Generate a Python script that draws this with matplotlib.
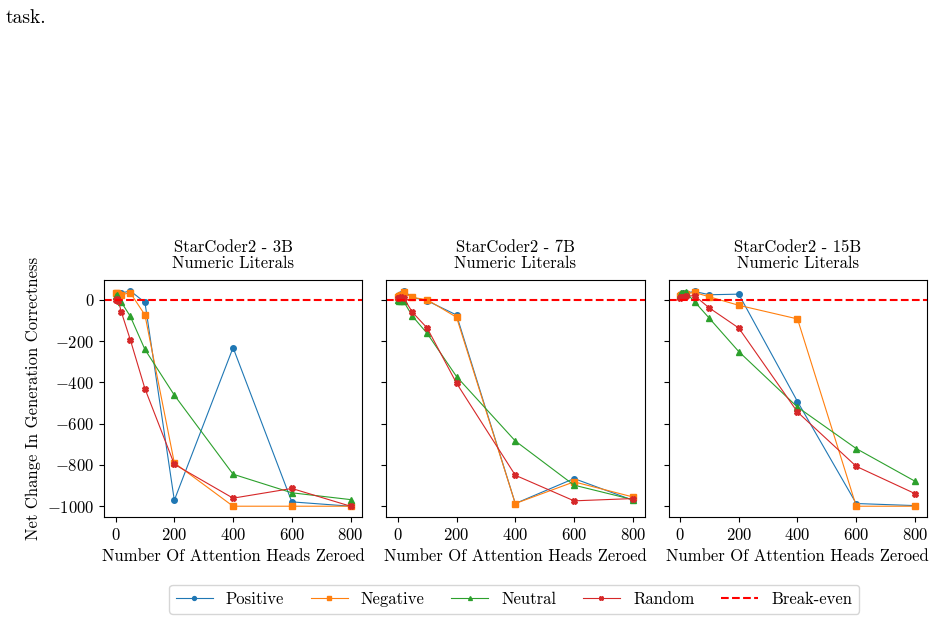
import matplotlib
matplotlib.use("Agg")
import matplotlib.pyplot as plt

plt.rcParams["font.family"] = ["cmr10", "DejaVu Serif"]
plt.rcParams["mathtext.fontset"] = "cm"
plt.rcParams["axes.formatter.use_mathtext"] = True
plt.rcParams["font.size"] = 12

heads = [1, 5, 10, 20, 50, 100, 200, 400, 600, 800]

titles = ["StarCoder2 - 3B\nNumeric Literals",
          "StarCoder2 - 7B\nNumeric Literals",
          "StarCoder2 - 15B\nNumeric Literals"]

# net change in generation correctness, one list per model
positive = [
    [28, 30, 25, 32, 43, -13, -971, -232, -979, -1000],
    [20, 25, 30, 43, 11, -5, -74, -987, -866, -971],
    [25, 30, 31, 33, 40, 24, 27, -493, -987, -997],
]
negative = [
    [31, 33, 30, 24, 34, -74, -790, -1000, -1000, -1000],
    [15, 20, 25, 35, 11, 0, -85, -987, -882, -955],
    [20, 24, 26, 30, 35, 14, -27, -93, -1000, -1000],
]
neutral = [
    [20, 22, 10, -13, -80, -241, -462, -845, -935, -968],
    [-2, -5, -6, -8, -80, -163, -372, -684, -898, -968],
    [25, 31, 33, 35, -10, -90, -251, -520, -721, -879],
]
random_ = [
    [0, 2, -8, -61, -193, -431, -797, -961, -914, -1000],
    [8, 10, 12, 8, -61, -137, -404, -850, -974, -963],
    [8, 11, 14, 18, 19, -40, -137, -544, -807, -939],
]

series = [
    ("Positive", positive, "#1f77b4", "o"),
    ("Negative", negative, "#ff7f0e", "s"),
    ("Neutral", neutral, "#2ca02c", "^"),
    ("Random", random_, "#d62728", "X"),
]

fig, axes = plt.subplots(1, 3, figsize=(9.38, 6.21), dpi=100, sharey=True)
fig.subplots_adjust(left=0.111, right=0.988, bottom=0.1675, top=0.549, wspace=0.093)

for i, ax in enumerate(axes):
    for name, vals, color, marker in series:
        ax.plot(heads, vals[i], marker=marker, color=color, lw=0.8, ms=4, label=name)
    ax.axhline(0, color="red", ls="--", lw=1.5, label="Break-even")
    ax.set_title(titles[i], fontsize=12, linespacing=1.0, pad=9)
    ax.set_xlabel("Number Of Attention Heads Zeroed")
    ax.set_xticks([0, 200, 400, 600, 800])
    ax.set_yticks([0, -200, -400, -600, -800, -1000])

axes[0].set_ylabel("Net Change In Generation Correctness")

handles, labels = axes[0].get_legend_handles_labels()
fig.legend(handles, labels, loc="center", bbox_to_anchor=(0.548, 0.035), ncol=5,
           fontsize=12, columnspacing=1.6, handlelength=2.2, markerscale=0.7)

fig.text(0.006, 0.985, "task.", fontsize=14, va="top")

fig.savefig("out.png", dpi=100)
